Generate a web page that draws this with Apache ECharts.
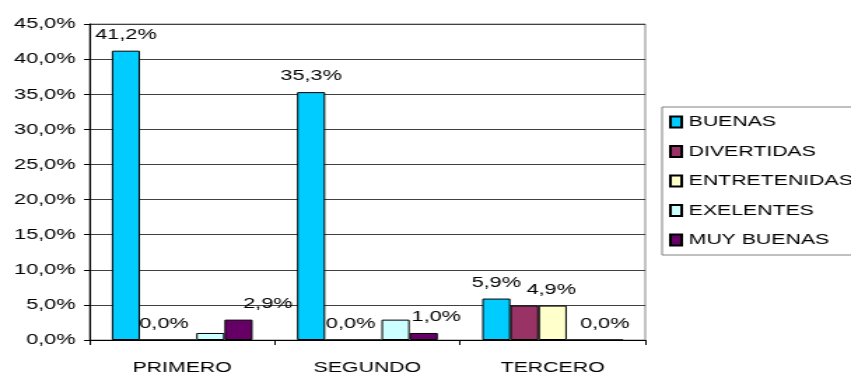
<!DOCTYPE html>
<html>
<head>
<meta charset="utf-8">
<script src="https://cdn.jsdelivr.net/npm/echarts@6/dist/echarts.min.js"></script>
<style>
  html, body { margin: 0; padding: 0; background: #fff; overflow: hidden; }
  #wrap { width: 851px; height: 375px; overflow: hidden; }
  /* chart is laid out narrow and stretched horizontally */
  #chart { width: 608px; height: 375px; transform: scaleX(1.39967); transform-origin: 0 0; }
</style>
</head>
<body>
<div id="wrap"><div id="chart"></div></div>
<script>
const categories = ['PRIMERO', 'SEGUNDO', 'TERCERO'];
const seriesNames = ['BUENAS', 'DIVERTIDAS', 'ENTRETENIDAS', 'EXELENTES', 'MUY BUENAS'];
const buenas = [41.2, 35.3, 5.9];
const divertidas = [0, 0, 4.9];
const entretenidas = [0, 0, 4.9];
const exelentes = [1.0, 2.9, 0];
const muyBuenas = [2.9, 1.0, 0];
const yMax = 45;
const yStep = 5;

const colors = ['#00CCFF', '#993366', '#FFFFCC', '#CCFFFF', '#660066'];
const pct = v => v.toFixed(1).replace('.', ',') + '%';

const labelFont = { fontFamily: 'Liberation Sans, Arial, sans-serif', fontSize: 15.5, color: '#000' };
const tallFont = { fontFamily: 'Liberation Sans, Arial, sans-serif', fontSize: 15.2, color: '#000' };

// per-category horizontal shifts of the value labels
const shiftEntretenidas = [-13, -12, -1];
const shiftMuyBuenas = [21, 9, -3];

function withLabels(values, shifts) {
  return values.map((v, i) => ({
    value: v,
    label: { show: true, offset: [shifts ? shifts[i] : 0, 0] }
  }));
}

const valueLabel = Object.assign({
  show: false, position: 'top', distance: 8, formatter: p => pct(p.value)
}, labelFont);

const dataSets = [
  withLabels(buenas, null),
  divertidas,
  withLabels(entretenidas, shiftEntretenidas),
  exelentes,
  withLabels(muyBuenas, shiftMuyBuenas)
];

const chart = echarts.init(document.getElementById('chart'), null, { renderer: 'canvas' });
chart.setOption({
  animation: false,
  backgroundColor: '#fff',
  grid: { left: 64, right: 147, top: 24, bottom: 35, show: true, borderColor: '#888', borderWidth: 1 },
  xAxis: {
    type: 'category',
    data: categories,
    axisLine: { lineStyle: { color: '#000', width: 1 } },
    axisTick: { show: true, length: 5, lineStyle: { color: '#000' } },
    axisLabel: Object.assign({ margin: 20 }, tallFont),
    splitLine: { show: false }
  },
  yAxis: {
    type: 'value',
    min: 0, max: yMax, interval: yStep,
    axisLine: { show: true, lineStyle: { color: '#000', width: 1 } },
    axisTick: { show: true, length: 4, lineStyle: { color: '#000' } },
    axisLabel: Object.assign({ margin: 10, formatter: v => pct(v) }, labelFont),
    splitLine: { show: true, lineStyle: { color: '#404040', width: 1 } }
  },
  legend: {
    orient: 'vertical',
    left: 473, top: 107,
    padding: [5, 60, 5, 5],
    itemWidth: 8, itemHeight: 11,
    itemGap: 9.5,
    icon: 'rect',
    borderColor: '#808080', borderWidth: 1,
    textStyle: Object.assign({ lineHeight: 20, padding: [0, 0, 0, 0] }, tallFont),
    data: seriesNames
  },
  series: seriesNames.map((name, i) => ({
    name: name,
    type: 'bar',
    data: dataSets[i],
    barGap: '0%',
    barCategoryGap: '24%',
    itemStyle: { color: colors[i], borderColor: '#000', borderWidth: 1 },
    label: valueLabel
  }))
});
</script>
</body>
</html>
